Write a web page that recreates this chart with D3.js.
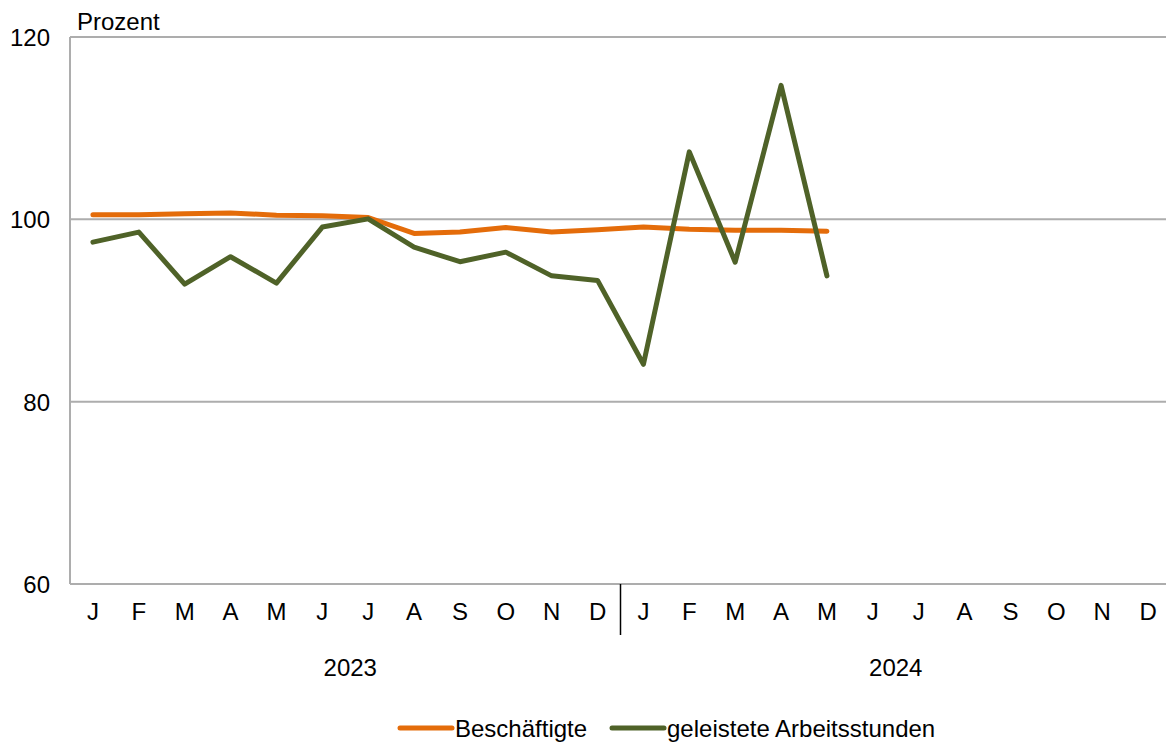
<!DOCTYPE html>
<html>
<head>
<meta charset="utf-8">
<script src="https://cdn.jsdelivr.net/npm/d3@7"></script>
<style>
  body { margin: 0; background: #fff; }
  text { font-family: "Liberation Sans", Arial, sans-serif; fill: #000; }
</style>
</head>
<body>
<div id="chart"></div>
<script>
var months = ["J","F","M","A","M","J","J","A","S","O","N","D"];
var years = ["2023", "2024"];
var yTicks = [60, 80, 100, 120];
var beschaeftigte = [100.5, 100.5, 100.6, 100.7, 100.45, 100.4, 100.2, 98.45, 98.6, 99.1, 98.6, 98.85, 99.15, 98.9, 98.8, 98.8, 98.7];
var arbeitsstunden = [97.5, 98.6, 92.9, 95.9, 93.0, 99.15, 100.05, 96.95, 95.35, 96.4, 93.8, 93.3, 84.1, 107.4, 95.3, 114.7, 93.8];
var seriesNames = ["Beschäftigte", "geleistete Arbeitsstunden"];
var seriesColors = ["#E46C0A", "#4F6228"];

var W = 1166, H = 745;
var margin = {left: 70, right: -5, top: 37, bottom: 161};

var svg = d3.select("#chart").append("svg").attr("width", W).attr("height", H);

var cats = [];
years.forEach(function(yr, yi){
  months.forEach(function(m, mi){ cats.push(yi * 12 + mi); });
});

var x = d3.scaleBand().domain(cats).range([margin.left, W - margin.right]);
var y = d3.scaleLinear().domain([60, 120]).range([H - margin.bottom, margin.top]);

// gridlines
svg.selectAll(".grid").data(yTicks).enter().append("line")
  .attr("x1", margin.left).attr("x2", W)
  .attr("y1", function(d){ return y(d); }).attr("y2", function(d){ return y(d); })
  .attr("stroke", "#ADADAD").attr("stroke-width", 2);

// left axis line
svg.append("line")
  .attr("x1", margin.left).attr("x2", margin.left)
  .attr("y1", y(120)).attr("y2", y(60))
  .attr("stroke", "#ADADAD").attr("stroke-width", 2);

// y labels
svg.selectAll(".ylab").data(yTicks).enter().append("text")
  .attr("x", 50).attr("y", function(d){ return y(d) + 9; })
  .attr("text-anchor", "end").attr("font-size", 24)
  .text(function(d){ return d; });

svg.append("text").attr("x", 77).attr("y", 30).attr("font-size", 24).text("Prozent");

// month labels
svg.selectAll(".xlab").data(cats).enter().append("text")
  .attr("x", function(d){ return x(d) + x.bandwidth() / 2; })
  .attr("y", 620).attr("text-anchor", "middle").attr("font-size", 24)
  .text(function(d){ return months[d % 12]; });

// year separator
svg.append("line")
  .attr("x1", x(12)).attr("x2", x(12))
  .attr("y1", y(60)).attr("y2", 635)
  .attr("stroke", "#000").attr("stroke-width", 1.5);

// year labels
var yearOffset = [5, 0];
svg.selectAll(".yrlab").data(years).enter().append("text")
  .attr("x", function(d, i){ return (x(i * 12) + x(i * 12 + 11) + x.bandwidth()) / 2 + yearOffset[i]; })
  .attr("y", 676).attr("text-anchor", "middle").attr("font-size", 24)
  .text(function(d){ return d; });

// lines
var line = d3.line()
  .x(function(d, i){ return x(i) + x.bandwidth() / 2; })
  .y(function(d){ return y(d); });

[beschaeftigte, arbeitsstunden].forEach(function(s, i){
  svg.append("path").datum(s)
    .attr("d", line)
    .attr("fill", "none")
    .attr("stroke", seriesColors[i])
    .attr("stroke-width", 5)
    .attr("stroke-linejoin", "round")
    .attr("stroke-linecap", "round");
});

// legend
var legX = [400, 612];
seriesNames.forEach(function(n, i){
  svg.append("line")
    .attr("x1", legX[i]).attr("x2", legX[i] + 52)
    .attr("y1", 728).attr("y2", 728)
    .attr("stroke", seriesColors[i]).attr("stroke-width", 5)
    .attr("stroke-linecap", "round");
  svg.append("text").attr("x", legX[i] + 55).attr("y", 737)
    .attr("font-size", 24).text(n);
});
</script>
</body>
</html>
